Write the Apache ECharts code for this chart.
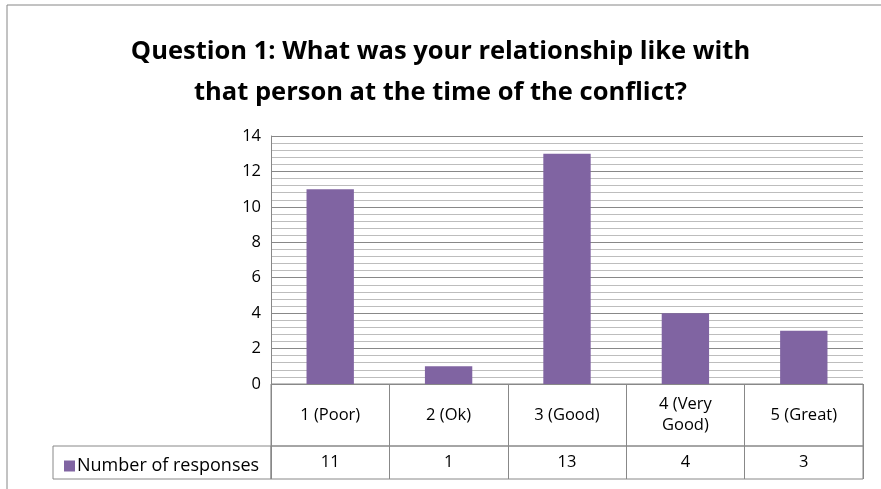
<!DOCTYPE html>
<html>
<head>
<meta charset="utf-8">
<script src="https://cdn.jsdelivr.net/npm/echarts@6/dist/echarts.min.js"></script>
<style>
  html, body { margin: 0; padding: 0; background: #fff; }
  #chart { width: 881px; height: 489px; }
</style>
</head>
<body>
<div id="chart"></div>
<script>
  // 数据
  var categories = ['1 (Poor)', '2 (Ok)', '3 (Good)', '4 (Very\nGood)', '5 (Great)']
  var responses = [11, 1, 13, 4, 3]
  var seriesName = 'Number of responses'
  var yTicks = { min: 0, max: 14, interval: 2 }

  var font = 'Open Sans'
  var labelSize = 16.5
  var chart = echarts.init(document.getElementById('chart'))

  chart.setOption({
    backgroundColor: '#fff',
    animation: false,
    title: {
      text: 'Question 1: What was your relationship like with\nthat person at the time of the conflict?',
      left: 'center',
      top: 26,
      textStyle: {
        fontFamily: font,
        fontWeight: 'bold',
        fontSize: 25.5,
        lineHeight: 41,
        color: '#000'
      }
    },
    legend: {
      left: 59,
      top: 452,
      icon: 'rect',
      itemWidth: 11,
      itemHeight: 11,
      itemGap: 4,
      data: [seriesName],
      textStyle: { fontFamily: font, fontSize: 18, color: '#000', padding: [0, 0, 0, -3] }
    },
    graphic: [
      // 外框
      { type: 'line', shape: { x1: 7, y1: 5, x2: 881, y2: 5 }, style: { stroke: '#868686', lineWidth: 1 } },
      { type: 'line', shape: { x1: 7, y1: 5, x2: 7, y2: 489 }, style: { stroke: '#868686', lineWidth: 1 } },
      // 图例单元格
      { type: 'rect', shape: { x: 53, y: 446, width: 218, height: 33 }, style: { fill: 'none', stroke: '#888', lineWidth: 1 } }
    ],
    grid: [
      { left: 271, right: 18, top: 136, bottom: 105 },
      // 表格：类别行
      { left: 271, right: 18, top: 384, height: 62, show: true, borderColor: '#888', borderWidth: 1, backgroundColor: 'transparent' },
      // 表格：数值行
      { left: 271, right: 18, top: 446, height: 33, show: true, borderColor: '#888', borderWidth: 1, backgroundColor: 'transparent' }
    ],
    xAxis: [
      {
        gridIndex: 0,
        type: 'category',
        data: categories,
        axisLine: { show: false },
        axisTick: { show: false },
        axisLabel: { show: false }
      },
      {
        gridIndex: 1,
        type: 'category',
        data: categories,
        axisLine: { show: false },
        axisTick: { show: false },
        splitLine: { show: true, interval: 0, lineStyle: { color: '#888', width: 1 } },
        axisLabel: {
          interval: 0,
          inside: true,
          margin: 31,
          verticalAlign: 'middle',
          lineHeight: 21,
          fontFamily: font,
          fontSize: labelSize,
          color: '#000'
        }
      },
      {
        gridIndex: 2,
        type: 'category',
        data: responses,
        axisLine: { show: false },
        axisTick: { show: false },
        splitLine: { show: true, interval: 0, lineStyle: { color: '#888', width: 1 } },
        axisLabel: {
          interval: 0,
          inside: true,
          margin: 17,
          verticalAlign: 'middle',
          fontFamily: font,
          fontSize: labelSize,
          color: '#000'
        }
      }
    ],
    yAxis: [
      {
        gridIndex: 0,
        type: 'value',
        min: yTicks.min,
        max: yTicks.max,
        interval: yTicks.interval,
        axisLine: { show: true, lineStyle: { color: '#888' } },
        axisTick: { show: false },
        axisLabel: { margin: 10, fontFamily: font, fontSize: labelSize, color: '#000' },
        splitLine: { show: true, lineStyle: { color: '#888', width: 1 } },
        minorTick: { show: false, splitNumber: 5 },
        minorSplitLine: { show: true, lineStyle: { color: '#bdbdbd', width: 1 } }
      },
      { gridIndex: 1, type: 'value', show: false, splitLine: { show: false } },
      { gridIndex: 2, type: 'value', show: false, splitLine: { show: false } }
    ],
    series: [
      {
        name: seriesName,
        type: 'bar',
        xAxisIndex: 0,
        yAxisIndex: 0,
        barWidth: '40%',
        itemStyle: { color: '#8064A2' },
        data: responses
      }
    ]
  })
</script>
</body>
</html>
